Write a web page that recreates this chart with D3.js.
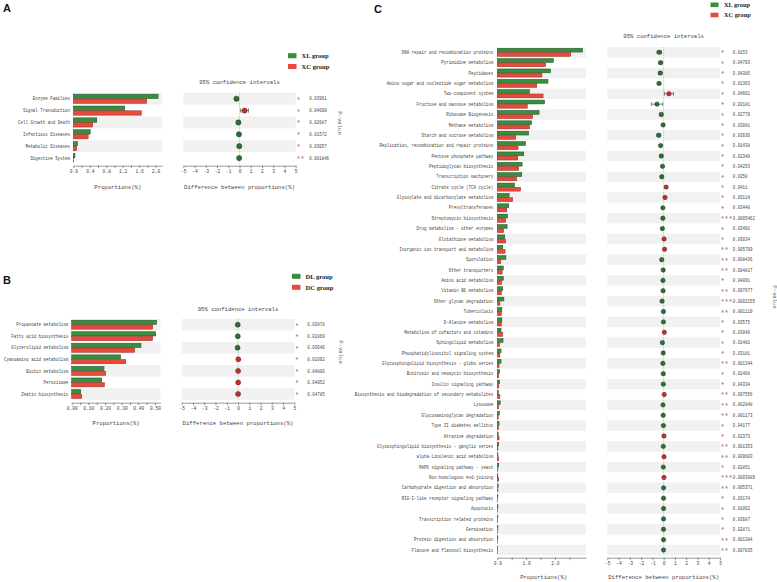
<!DOCTYPE html>
<html>
<head>
<meta charset="utf-8">
<script src="https://cdn.jsdelivr.net/npm/d3@7"></script>
<style>
html,body{margin:0;padding:0;background:#fff;}
svg{display:block;}
</style>
</head>
<body>
<svg id="chart" width="777" height="582"></svg>
<script>
// ---------------- DATA ----------------
// Panel A
const catsA = ["Enzyme Families","Signal Transduction","Cell Growth and Death","Infectious Diseases","Metabolic Diseases","Digestive System"];
const xlA = [2.06,1.25,0.57,0.41,0.10,0.04];
const xcA = [1.78,1.65,0.47,0.36,0.08,0.01];
const diffA = [-0.27,0.45,-0.10,-0.05,-0.02,-0.03];
const ciA = [0.15,0.35,0.10,0.08,0.05,0.03];
const pA = ["0.03961","0.04699","0.02687","0.01572","0.03057","0.001846"];
const groupsA = ["XL group","XC group"];

// Panel B
const catsB = ["Propanoate metabolism","Fatty acid biosynthesis","Glycerolipid metabolism","Cyanoamino acid metabolism","Biotin metabolism","Peroxisome","Zeatin biosynthesis"];
const dlB = [0.51,0.504,0.416,0.294,0.194,0.18,0.054];
const dcB = [0.486,0.486,0.378,0.324,0.204,0.196,0.06];
const diffB = [-0.024,-0.018,-0.038,0.03,0.01,0.016,0.006];
const ciB = [0.05,0.05,0.05,0.05,0.05,0.05,0.04];
const pB = ["0.03878","0.02869","0.03646","0.01092","0.04806","0.04952","0.04785"];
const groupsB = ["DL group","DC group"];

// Panel C
const catsC = ["DNA repair and recombination proteins","Pyrimidine metabolism","Peptidases","Amino sugar and nucleotide sugar metabolism","Two-component system","Fructose and mannose metabolism","Ribosome Biogenesis","Methane metabolism","Starch and sucrose metabolism","Replication, recombination and repair proteins","Pentose phosphate pathway","Peptidoglycan biosynthesis","Transcription machinery","Citrate cycle (TCA cycle)","Glyoxylate and dicarboxylate metabolism","Prenyltransferases","Streptomycin biosynthesis","Drug metabolism - other enzymes","Glutathione metabolism","Inorganic ion transport and metabolism","Sporulation","Other transporters","Amino acid metabolism","Vitamin B6 metabolism","Other glycan degradation","Tuberculosis","D-Alanine metabolism","Metabolism of cofactors and vitamins","Sphingolipid metabolism","Phosphatidylinositol signaling system","Glycosphingolipid biosynthesis - globo series","Butirosin and neomycin biosynthesis","Insulin signaling pathway","Biosynthesis and biodegradation of secondary metabolites","Lysosome","Glycosaminoglycan degradation","Type II diabetes mellitus","Atrazine degradation","Glycosphingolipid biosynthesis - ganglio series","alpha-Linolenic acid metabolism","MAPK signaling pathway - yeast","Non-homologous end-joining","Carbohydrate digestion and absorption","RIG-I-like receptor signaling pathway","Apoptosis","Transcription related proteins","Germination","Protein digestion and absorption","Flavone and flavonol biosynthesis"];
const xlC = [2.96,1.95,1.85,1.76,1.12,1.64,1.45,1.19,1.09,0.98,0.92,0.86,0.85,0.60,0.41,0.40,0.36,0.34,0.26,0.19,0.30,0.21,0.21,0.19,0.23,0.16,0.16,0.13,0.20,0.13,0.13,0.08,0.08,0.035,0.10,0.07,0.06,0.03,0.05,0.02,0.05,0.02,0.03,0.02,0.02,0.02,0.02,0.02,0.015];
const xcC = [2.55,1.68,1.55,1.37,1.59,1.04,1.23,1.12,0.64,0.72,0.71,0.74,0.67,0.81,0.53,0.33,0.29,0.22,0.29,0.27,0.12,0.17,0.15,0.14,0.09,0.14,0.14,0.19,0.08,0.09,0.06,0.05,0.05,0.09,0.04,0.03,0.04,0.06,0.02,0.05,0.02,0.05,0.02,0.015,0.015,0.015,0.015,0.01,0.01];
const diffC = [-0.39,-0.27,-0.30,-0.41,0.47,-0.59,-0.21,-0.05,-0.44,-0.27,-0.21,-0.10,-0.17,0.22,0.12,-0.07,-0.07,-0.11,0.04,0.08,-0.17,-0.04,-0.06,-0.05,-0.14,-0.02,-0.02,0.06,-0.11,-0.04,-0.07,-0.03,-0.03,0.05,-0.06,-0.04,-0.02,0.03,-0.03,0.03,-0.03,0.03,-0.01,-0.01,-0.01,-0.01,-0.01,-0.01,-0.01];
const ciC = [0.2,0.15,0.15,0.15,0.4,0.5,0.12,0.08,0.15,0.12,0.1,0.08,0.08,0.1,0.08,0.06,0.06,0.06,0.05,0.05,0.06,0.04,0.04,0.04,0.05,0.03,0.03,0.04,0.04,0.03,0.03,0.03,0.03,0.03,0.03,0.02,0.02,0.02,0.02,0.02,0.02,0.02,0.02,0.01,0.01,0.01,0.01,0.01,0.01];
const pC = ["0.0153","0.04793","0.04385","0.01363","0.04661","0.03181","0.02779","0.03081","0.03636","0.01438","0.02349","0.04253","0.0358","0.0411","0.03114","0.03448","0.0005462","0.03491","0.03034","0.005709","0.008436","0.004817","0.04091","0.007677","0.0002155","0.001119","0.03575","0.03046","0.01481","0.03181","0.001344","0.01468","0.04334","0.007556","0.002848","0.001173","0.04177","0.02373","0.001353","0.009603","0.02851","0.0003089","0.005371","0.03174","0.01062","0.03687","0.02871","0.001384","0.007835"];
const groupsC = ["XL group","XC group"];

const ciTicks = [-5,-4,-3,-2,-1,0,1,2,3,4,5];

// ---------------- STYLE ----------------
const GREEN = "#3b8c3e", GREEN_D = "#1f4f22", GREEN_PT = "#2f6e35";
const RED = "#e64a3b", RED_D = "#8e2a22", RED_PT = "#b8342c";
const STRIPE = "#f1f1f1";
const TXT = "#444";
const MONO = "'Liberation Mono', 'DejaVu Sans Mono', monospace";
const SERIF = "'Liberation Serif', 'DejaVu Serif', serif";
const SX = 0.9; // horizontal squeeze of small text

const svg = d3.select("#chart");

function stars(p){ const v=+p; return v<0.001?"***":(v<0.01?"**":"*"); }

function smallText(g, x, y, txt, anchor, size, fill){
  return g.append("text")
    .attr("transform",`translate(${x},${y}) scale(${SX},1)`)
    .attr("dy","0.35em").attr("text-anchor",anchor)
    .attr("font-family",MONO).attr("font-size",size).attr("fill",fill).text(txt);
}

function panel(o){
  const g = svg.append("g");
  const n = o.cats.length;
  const y = d3.scaleBand().domain(d3.range(n)).range([o.yTop, o.yTop + o.band*n]);
  const xb = d3.scaleLinear().domain([0,o.barMax]).range([o.barX0,o.barX1]);
  const xc = d3.scaleLinear().domain([-5,5]).range([o.ciX0,o.ciX1]);
  const bh = o.band*0.37;

  // stripes
  d3.range(n).filter(i=>i%2===0).forEach(i=>{
    g.append("rect").attr("x",o.barX0).attr("y",y(i)).attr("width",o.barX1-o.barX0).attr("height",o.band).attr("fill",STRIPE);
    g.append("rect").attr("x",o.ciX0).attr("y",y(i)).attr("width",o.ciX1-o.ciX0).attr("height",o.band).attr("fill",STRIPE);
  });

  const cy = i => y(i)+o.band/2;

  // bars
  g.selectAll(".b1").data(o.v1).join("rect")
    .attr("x",xb(0)).attr("y",(d,i)=>cy(i)-bh-0.2).attr("width",d=>xb(d)-xb(0)).attr("height",bh)
    .attr("fill",GREEN).attr("stroke",GREEN_D).attr("stroke-width",0.5);
  g.selectAll(".b2").data(o.v2).join("rect")
    .attr("x",xb(0)).attr("y",(d,i)=>cy(i)+0.2).attr("width",d=>xb(d)-xb(0)).attr("height",bh)
    .attr("fill",RED).attr("stroke",RED_D).attr("stroke-width",0.5);

  // category labels
  o.cats.forEach((c,i)=> smallText(g, o.labelX, cy(i), c, "end", o.fs, TXT));

  // bar axis
  const ax = d3.axisBottom(xb).tickValues(o.barTicks).tickSize(2.5).tickSizeOuter(0)
    .tickFormat(d=> o.barLabels.some(v=>Math.abs(v-d)<1e-9) ? d3.format(o.fmt)(d) : "");
  const axg = g.append("g").attr("transform",`translate(0,${o.axisY})`).call(ax);
  axg.select(".domain").attr("stroke","#555").attr("stroke-width",0.6);
  axg.selectAll(".tick line").attr("stroke","#555").attr("stroke-width",0.6);
  axg.selectAll(".tick text").attr("font-family",MONO).attr("font-size",o.fs).attr("fill",TXT).attr("y",4.5);

  // CI axis
  const cax = d3.axisBottom(xc).tickValues(ciTicks).tickSize(2.5).tickSizeOuter(0).tickFormat(d=>String(d));
  const caxg = g.append("g").attr("transform",`translate(0,${o.axisY})`).call(cax);
  caxg.select(".domain").attr("stroke","#555").attr("stroke-width",0.6);
  caxg.selectAll(".tick line").attr("stroke","#555").attr("stroke-width",0.6);
  caxg.selectAll(".tick text").attr("font-family",MONO).attr("font-size",o.fs).attr("fill",TXT).attr("y",4.5);

  // zero line
  g.append("line").attr("x1",xc(0)).attr("x2",xc(0)).attr("y1",o.yTop).attr("y2",o.yTop+o.band*n)
    .attr("stroke","#aaa").attr("stroke-width",0.6).attr("stroke-dasharray","1.5,1");

  // error bars
  const cap = o.band*0.18;
  o.diff.forEach((d,i)=>{
    const lo = xc(d-o.ci[i]), hi = xc(d+o.ci[i]), c = cy(i);
    g.append("line").attr("x1",lo).attr("x2",hi).attr("y1",c).attr("y2",c).attr("stroke","#333").attr("stroke-width",0.6);
    g.append("line").attr("x1",lo).attr("x2",lo).attr("y1",c-cap).attr("y2",c+cap).attr("stroke","#333").attr("stroke-width",0.6);
    g.append("line").attr("x1",hi).attr("x2",hi).attr("y1",c-cap).attr("y2",c+cap).attr("stroke","#333").attr("stroke-width",0.6);
  });
  g.selectAll(".pt").data(o.diff).join("circle")
    .attr("cx",d=>xc(d)).attr("cy",(d,i)=>cy(i)).attr("r",o.r)
    .attr("fill",d=>d>0?RED_PT:GREEN_PT).attr("stroke",d=>d>0?"#6e1b16":"#173d1a").attr("stroke-width",0.5);

  // stars and p-values
  g.selectAll(".st").data(o.p).join("text")
    .attr("x",o.starX).attr("y",(d,i)=>cy(i)).attr("dy","0.45em")
    .attr("font-family",MONO).attr("font-size",o.fs*1.45).attr("fill","#b67a8c").attr("font-weight","bold")
    .text(d=>stars(d));
  o.p.forEach((p,i)=> smallText(g, o.pX, cy(i), p, "start", o.fs, TXT));

  // titles
  g.append("text").attr("x",(o.ciX0+o.ciX1)/2).attr("y",o.titleY).attr("text-anchor","middle")
    .attr("font-family",MONO).attr("font-size",o.fs2).attr("fill",TXT).text("95% confidence intervals");
  g.append("text").attr("x",(o.barX0+o.barX1)/2 - o.propShift).attr("y",o.axTitleY).attr("text-anchor","middle")
    .attr("font-family",MONO).attr("font-size",o.fs2).attr("fill",TXT).text("Proportions(%)");
  g.append("text").attr("x",(o.ciX0+o.ciX1)/2).attr("y",o.axTitleY).attr("text-anchor","middle")
    .attr("font-family",MONO).attr("font-size",o.fs2).attr("fill",TXT).text("Difference between proportions(%)");
  g.append("text").attr("transform",`translate(${o.pvLabX},${o.pvLabY}) rotate(90)`).attr("text-anchor","middle")
    .attr("font-family",MONO).attr("font-size",o.fs2).attr("fill","#666").text("P-value");

  // legend
  [[o.groups[0],GREEN],[o.groups[1],RED]].forEach(([t,c],k)=>{
    g.append("rect").attr("x",o.legX).attr("y",o.legY+k*o.legGap-o.legH/2).attr("width",o.legW).attr("height",o.legH).attr("fill",c);
    g.append("text").attr("x",o.legX+o.legW+o.legTx).attr("y",o.legY+k*o.legGap).attr("dy","0.35em")
      .attr("font-family",SERIF).attr("font-weight","bold").attr("font-size",o.legFs).attr("fill","#222").text(t);
  });

  // panel letter
  g.append("text").attr("x",o.letX).attr("y",o.letY).attr("font-family","'Liberation Sans', Arial, sans-serif")
    .attr("font-weight","bold").attr("font-size",11).attr("fill","#111").text(o.letter);
}

panel({
  letter:"A", letX:3, letY:12,
  cats:catsA, v1:xlA, v2:xcA, diff:diffA, ci:ciA, p:pA, groups:groupsA,
  yTop:92.8, band:11.86, labelX:70, barX0:73.3, barX1:162.3, barMax:2.16,
  barTicks:[0,0.2,0.4,0.6,0.8,1.0,1.2,1.4,1.6,1.8,2.0], barLabels:[0,0.4,0.8,1.2,1.6,2.0], fmt:".1f",
  ciX0:183.3, ciX1:295.7, axisY:165.7, r:2.6,
  starX:296.5, pX:309.3, titleY:84, axTitleY:188.5, propShift:0,
  pvLabX:338, pvLabY:123, fs:4.6, fs2:5.6,
  legX:288, legY:55.7, legGap:10.8, legW:8.5, legH:5, legTx:5, legFs:6.6
});

panel({
  letter:"B", letX:3, letY:284,
  cats:catsB, v1:dlB, v2:dcB, diff:diffB, ci:ciB, p:pB, groups:groupsB,
  yTop:318.9, band:11.55, labelX:68.3, barX0:71.7, barX1:160.5, barMax:0.533,
  barTicks:d3.range(0,0.5001,0.05), barLabels:[0,0.1,0.2,0.3,0.4,0.5], fmt:".2f",
  ciX0:181.7, ciX1:294.3, axisY:402.7, r:2.5,
  starX:295, pX:307.3, titleY:310.5, axTitleY:424.5, propShift:0,
  pvLabX:339, pvLabY:352, fs:4.6, fs2:5.6,
  legX:292, legY:276.3, legGap:11, legW:8.5, legH:5, legTx:5, legFs:6.6
});

panel({
  letter:"C", letX:374, letY:13,
  cats:catsC, v1:xlC, v2:xcC, diff:diffC, ci:ciC, p:pC, groups:groupsC,
  yTop:47.1, band:10.37, labelX:493.3, barX0:497.3, barX1:586, barMax:3.08,
  barTicks:[0,0.5,1.0,1.5,2.0,2.5], barLabels:[0,1,2], fmt:".1f",
  ciX0:607.3, ciX1:720, axisY:557.7, r:2.2,
  starX:720.5, pX:732.7, titleY:37.5, axTitleY:578.5, propShift:-2,
  pvLabX:773, pvLabY:297, fs:4.6, fs2:5.6,
  legX:710.5, legY:4.8, legGap:10.2, legW:8, legH:4.6, legTx:5.5, legFs:6.3
});
</script>
</body>
</html>
